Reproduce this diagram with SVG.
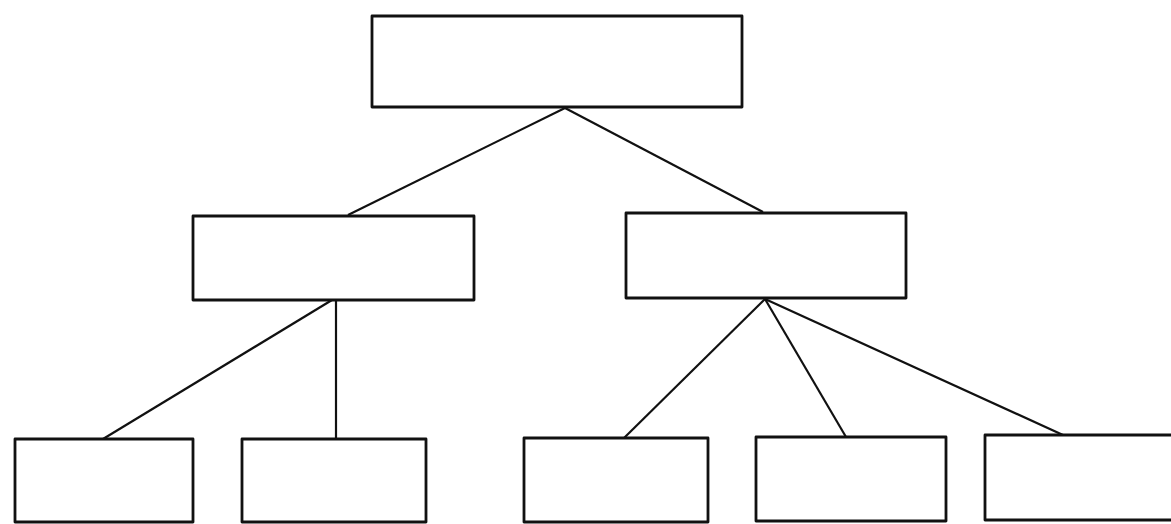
<svg xmlns="http://www.w3.org/2000/svg" width="1171" height="524" viewBox="0 0 1171 524">
<style>
.box{fill:#fff;stroke:#111;stroke-width:2.8;stroke-linejoin:round}
.edge{stroke:#111;stroke-width:2.2;fill:none}
</style>
<rect width="1171" height="524" fill="#fff"/>
<g id="connectors">
<line class="edge" x1="565" y1="108" x2="348" y2="215"/>
<line class="edge" x1="565" y1="108" x2="763" y2="212"/>
<line class="edge" x1="332" y1="300" x2="103" y2="439"/>
<line class="edge" x1="336" y1="300" x2="336" y2="439"/>
<line class="edge" x1="765" y1="299" x2="624" y2="438"/>
<line class="edge" x1="765" y1="299" x2="846" y2="437"/>
<line class="edge" x1="765" y1="299" x2="1063" y2="435"/>
</g>
<g id="root"><rect class="box" x="372" y="16" width="370" height="91"/></g>
<g id="mid-left"><rect class="box" x="193" y="216" width="281" height="84"/></g>
<g id="mid-right"><rect class="box" x="626" y="213" width="280" height="85"/></g>
<g id="leaf1"><rect class="box" x="15" y="439" width="178" height="83"/></g>
<g id="leaf2"><rect class="box" x="242" y="439" width="184" height="83"/></g>
<g id="leaf3"><rect class="box" x="524" y="438" width="184" height="84"/></g>
<g id="leaf4"><rect class="box" x="756" y="437" width="190" height="84"/></g>
<g id="leaf5"><rect class="box" x="985" y="435" width="195" height="85"/></g>
</svg>
